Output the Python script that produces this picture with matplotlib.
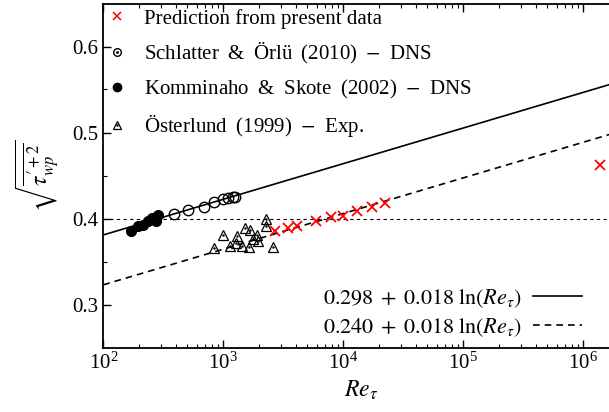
import numpy as np
import matplotlib
matplotlib.use("Agg")
from matplotlib import pyplot as plt

plt.rcParams['font.family'] = ['Liberation Serif', 'DejaVu Serif']
plt.rcParams['mathtext.fontset'] = 'stix'
plt.rcParams['font.size'] = 15

# prediction from present data
re_pred = [2700, 3460, 4110, 5920, 7890, 9940, 13000, 17300, 22200, 1.38e6]
u_pred = [0.3851, 0.3886, 0.3916, 0.3968, 0.4021, 0.4030, 0.4091, 0.4137, 0.4180, 0.4622]

# Schlatter & Orlu (2010) DNS
re_so = [388, 508, 690, 837, 995, 1095, 1194, 1253]
u_so = [0.4052, 0.4099, 0.4134, 0.4188, 0.4223, 0.4238, 0.4250, 0.4253]

# Komminaho & Skote (2002) DNS
re_ks = [170, 195, 214, 236, 255, 270, 275, 286]
u_ks = [0.3855, 0.3909, 0.3924, 0.3974, 0.4002, 0.4002, 0.3974, 0.4044]

# Osterlund (1999) experiment
re_os = [836, 989, 1137, 1276, 1309, 1423, 1507, 1647, 1669, 1778, 1897, 1958, 2250, 2250, 2572]
u_os = [0.3657, 0.3812, 0.3680, 0.3710, 0.3793, 0.3686, 0.3893, 0.3674, 0.3872, 0.3762,
        0.3812, 0.3744, 0.3994, 0.3916, 0.3669]

# log-law fits
a_upper, a_lower, b_fit = 0.298, 0.240, 0.018

fig = plt.figure(figsize=(6.09, 4.12), dpi=100)
ax = fig.add_axes([103.3 / 609, 1 - 347.5 / 412, 516 / 609, 344 / 412])

re_line = np.logspace(2, 6.3, 200)
l1, = ax.plot(re_line, a_upper + b_fit * np.log(re_line), 'k-', lw=1.2)
l2, = ax.plot(re_line, a_lower + b_fit * np.log(re_line), 'k--', lw=1.2, dashes=(4, 3))
ax.axhline(0.4, color='k', lw=0.8, ls=(0, (3, 3)))

ax.plot(re_os, u_os, '^', ms=7, mfc='none', mec='k', mew=0.9, ls='none')
ax.plot(re_os, u_os, '.', ms=1.5, color='k', ls='none')
ax.plot(re_ks, u_ks, 'o', ms=7, color='k', ls='none')
ax.plot(re_so, u_so, 'o', ms=7.5, mfc='none', mec='k', mew=1.0, ls='none')
ax.plot(re_pred, u_pred, 'x', ms=7.5, color='red', mew=1.3, ls='none')

h_pred, = ax.plot([], [], 'x', ms=6, color='red', mew=1.1, ls='none')
h_so, = ax.plot([], [], 'o', ms=5.5, mfc='none', mec='k', mew=1.0, ls='none')
h_so_dot, = ax.plot([], [], '.', ms=2, color='k', ls='none')
h_ks, = ax.plot([], [], 'o', ms=6, color='k', ls='none')
h_os, = ax.plot([], [], '^', ms=6, mfc='none', mec='k', mew=0.9, ls='none')
h_os_dot, = ax.plot([], [], '.', ms=1.5, color='k', ls='none')

sp = ' \u2009'
leg1 = ax.legend([h_pred, (h_so, h_so_dot), h_ks, (h_os, h_os_dot)],
                 ['Prediction from present data',
                  sp.join(['Schlatter', '&', 'Örlü', '(2010)', '$-$', 'DNS']),
                  sp.join(['Komminaho', '&', 'Skote', '(2002)', '$-$', 'DNS']),
                  sp.join(['Österlund', '(1999)', '$-$', 'Exp.'])],
                 loc='upper left', bbox_to_anchor=(0.0, 1.0), frameon=False,
                 handlelength=0.8, handletextpad=0.9, labelspacing=0.55,
                 borderpad=0.2, borderaxespad=0.05, fontsize=15)
ax.add_artist(leg1)

ax.legend([l1, l2],
          [r'$0.298\;+\;0.018\;\ln(Re_\tau)$', r'$0.240\;+\;0.018\;\ln(Re_\tau)$'],
          loc='lower right', bbox_to_anchor=(0.945, 0.0), frameon=False,
          markerfirst=False, handlelength=2.2, handletextpad=0.5,
          labelspacing=0.27, borderaxespad=0.0, fontsize=16)

ax.set_xscale('log')
ax.set_xlim(1e2, 10 ** 6.3)
ax.set_ylim(0.25, 0.65)
ax.set_yticks([0.3, 0.4, 0.5, 0.6])
ax.set_yticks([0.35, 0.45, 0.55], minor=True)
ax.tick_params(which='both', direction='in', top=True, right=True)
ax.tick_params(which='major', length=6, width=1)
ax.tick_params(which='minor', length=3, width=0.8)
for s in ax.spines.values():
    s.set_linewidth(1.3)

ax.set_xlabel(r'$Re_\tau$', fontsize=17, labelpad=4)
ax.set_ylabel(r'$\sqrt{\overline{\tau_{wp}^{\prime +2}}}$', fontsize=17, labelpad=8)

fig.savefig('out.png', dpi=100)
